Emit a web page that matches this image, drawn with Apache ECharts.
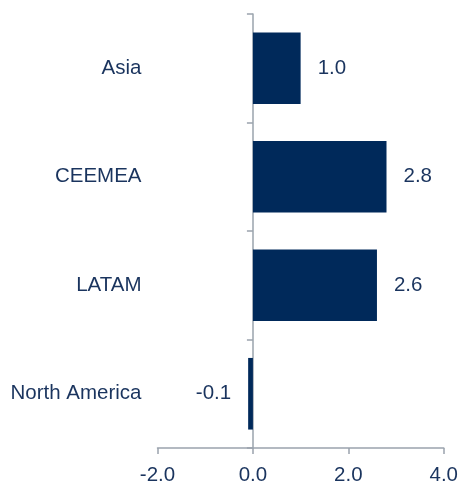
<!DOCTYPE html>
<html>
<head>
<meta charset="utf-8">
<script src="https://cdn.jsdelivr.net/npm/echarts@6/dist/echarts.min.js"></script>
<style>html,body{margin:0;padding:0;background:#fff}#c{width:461px;height:486px}</style>
</head>
<body>
<div id="c"></div>
<script>
var categories = ['Asia', 'CEEMEA', 'LATAM', 'North America'];
var values = [1.0, 2.8, 2.6, -0.1];
var xTicks = [-2.0, 0.0, 2.0, 4.0];

var textColor = '#1a345e';
var axisColor = '#9aa3ad';
var barColor = '#00295a';
var font = 'Liberation Sans, Arial, sans-serif';
var fs = 20.5;

var chart = echarts.init(document.getElementById('c'));
chart.setOption({
  animation: false,
  grid: { left: 157.5, right: 14, top: 14, bottom: 32, containLabel: false },
  xAxis: {
    type: 'value',
    min: xTicks[0],
    max: xTicks[xTicks.length - 1],
    interval: 2,
    axisLine: { show: true, onZero: false, lineStyle: { color: axisColor, width: 1.5 } },
    axisTick: { show: true, inside: false, length: 6, lineStyle: { color: axisColor, width: 1.5 } },
    splitLine: { show: false },
    axisLabel: {
      color: textColor, fontSize: fs, fontFamily: font, margin: 17,
      formatter: function (v) { return v.toFixed(1); }
    }
  },
  yAxis: [
    {
      type: 'category',
      data: categories,
      inverse: true,
      axisLine: { show: false, onZero: false },
      axisTick: { show: false },
      axisLabel: { color: textColor, fontSize: fs, fontFamily: font, margin: 16 }
    },
    {
      type: 'category',
      data: categories,
      inverse: true,
      position: 'left',
      axisLine: { show: true, onZero: true, lineStyle: { color: axisColor, width: 1.5 } },
      axisTick: { show: true, length: 6, lineStyle: { color: axisColor, width: 1.5 } },
      axisLabel: { show: false }
    }
  ],
  series: [{
    type: 'bar',
    yAxisIndex: 0,
    barCategoryGap: '34%',
    itemStyle: { color: barColor },
    data: values.map(function (v) {
      return { value: v, label: { position: v < 0 ? 'left' : 'right' } };
    }),
    label: {
      show: true,
      distance: 17,
      color: textColor,
      fontSize: fs,
      fontFamily: font,
      formatter: function (p) { return p.value.toFixed(1); }
    }
  }]
});
</script>
</body>
</html>
